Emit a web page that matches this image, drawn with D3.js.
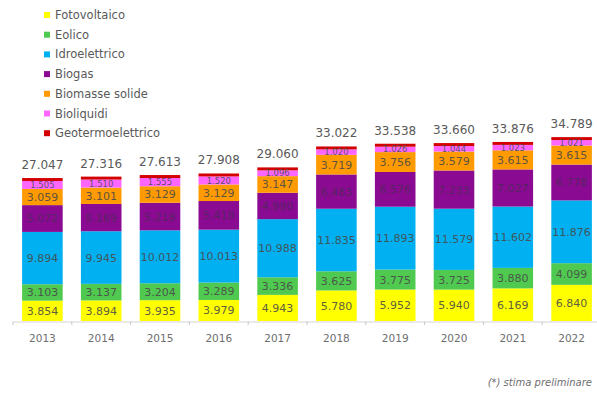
<!DOCTYPE html>
<html>
<head>
<meta charset="utf-8">
<script src="https://cdn.jsdelivr.net/npm/d3@7"></script>
<style>
  html, body { margin: 0; padding: 0; background: #fff; }
  svg { display: block; font-family: "DejaVu Sans", Verdana, sans-serif; }
</style>
</head>
<body>
<svg id="chart" width="597" height="396"></svg>
<script>
// Anni
const years = ["2013", "2014", "2015", "2016", "2017", "2018", "2019", "2020", "2021", "2022"];

// Serie per fonte
const fotovoltaico      = [3854, 3894, 3935, 3979, 4943, 5780, 5952, 5940, 6169, 6840];
const eolico            = [3103, 3137, 3204, 3289, 3336, 3625, 3775, 3725, 3880, 4099];
const idroelettrico     = [9894, 9945, 10012, 10013, 10988, 11835, 11893, 11579, 11602, 11876];
const biogas            = [5072, 5169, 5218, 5418, 4990, 6483, 6576, 7233, 7027, 6778];
const biomasseSolide    = [3059, 3101, 3129, 3129, 3147, 3719, 3756, 3579, 3615, 3615];
const bioliquidi        = [1505, 1510, 1555, 1520, 1096, 1020, 1026, 1044, 1023, 1021];
const geotermoelettrico = [560, 560, 560, 560, 560, 560, 560, 560, 560, 560];

// Totali annui
const totals = [27047, 27316, 27613, 27908, 29060, 33022, 33538, 33660, 33876, 34789];

const seriesNames = ["Fotovoltaico", "Eolico", "Idroelettrico", "Biogas", "Biomasse solide", "Bioliquidi", "Geotermoelettrico"];
const seriesValues = [fotovoltaico, eolico, idroelettrico, biogas, biomasseSolide, bioliquidi, geotermoelettrico];
const seriesColors = ["#ffff00", "#4fc94f", "#00b0f0", "#8a0a92", "#ff9a00", "#ff66ff", "#d40000"];
const labelledSeries = [true, true, true, true, true, true, false];

const rows = years.map((yr, i) => {
  const r = { year: yr };
  seriesNames.forEach((n, k) => { r[n] = seriesValues[k][i]; });
  return r;
});

const svg = d3.select("#chart");

const x = d3.scaleBand().domain(years).range([13, 601]).paddingInner(0.31).paddingOuter(0.155);
const y = d3.scaleLinear().domain([0, 35000]).range([321, 136]);

const stack = d3.stack().keys(seriesNames);
const layers = stack(rows);

// Asse orizzontale
const axis = d3.axisBottom(x).tickSize(0).tickPadding(13);
const gAxis = svg.append("g").attr("transform", "translate(0,321.5)").call(axis);
gAxis.select(".domain").attr("stroke", "#d4d4d4");
gAxis.selectAll("text").attr("fill", "#6e6e6e").style("font-size", "10.5px")
  .style("font-family", "'DejaVu Sans', Verdana, sans-serif");

// Tacche tra le categorie
const step = x.step();
const boundaries = years.slice(0, -1).map(yr => x(yr) + x.bandwidth() + (step - x.bandwidth()) / 2);
boundaries.unshift(x(years[0]) - (step - x.bandwidth()) / 2);
svg.append("g").selectAll("line").data(boundaries).join("line")
  .attr("x1", d => d).attr("x2", d => d)
  .attr("y1", 321.5).attr("y2", 325)
  .attr("stroke", "#c8c8c8");

// Segmenti
const gLayers = svg.append("g").selectAll("g").data(layers).join("g")
  .attr("fill", (d, i) => seriesColors[i]);
gLayers.selectAll("rect").data(d => d).join("rect")
  .attr("x", d => x(d.data.year))
  .attr("width", x.bandwidth())
  .attr("y", d => y(d[1]))
  .attr("height", d => y(d[0]) - y(d[1]));

// Etichette dei segmenti
const fmt = v => d3.format(",")(v).replace(/,/g, ".");
layers.forEach((layer, i) => {
  if (!labelledSeries[i]) return;
  const small = i === 5;
  svg.append("g").selectAll("text").data(layer).join("text")
    .attr("x", d => x(d.data.year) + x.bandwidth() / 2)
    .attr("y", d => (y(d[0]) + y(d[1])) / 2)
    .attr("dy", "0.36em")
    .attr("text-anchor", "middle")
    .attr("fill", i === 3 ? "#4a2a55" : "#4a4a4a")
    .attr("fill-opacity", i === 3 ? 0.8 : 0.9)
    .style("font-size", small ? "8.5px" : "11px")
    .text(d => fmt(d[1] - d[0]));
});

// Totali sopra le barre
svg.append("g").selectAll("text").data(rows).join("text")
  .attr("x", d => x(d.year) + x.bandwidth() / 2)
  .attr("y", (d, i) => y(totals[i]) - 9)
  .attr("text-anchor", "middle")
  .attr("fill", "#595959")
  .style("font-size", "12px")
  .text((d, i) => fmt(totals[i]));

// Legenda
const legend = svg.append("g").selectAll("g").data(seriesNames).join("g")
  .attr("transform", (d, i) => `translate(44,${15 + i * 19.7})`);
legend.append("rect")
  .attr("x", 0).attr("y", -3).attr("width", 6).attr("height", 6)
  .attr("fill", (d, i) => seriesColors[i]);
legend.append("text")
  .attr("x", 11).attr("dy", "0.35em")
  .attr("fill", "#595959")
  .style("font-size", "11.5px")
  .text(d => d);

// Nota
svg.append("text")
  .attr("x", 592).attr("y", 386)
  .attr("text-anchor", "end")
  .attr("fill", "#6e6e6e")
  .style("font-size", "10px")
  .style("font-style", "italic")
  .text("(*) stima preliminare");
</script>
</body>
</html>
